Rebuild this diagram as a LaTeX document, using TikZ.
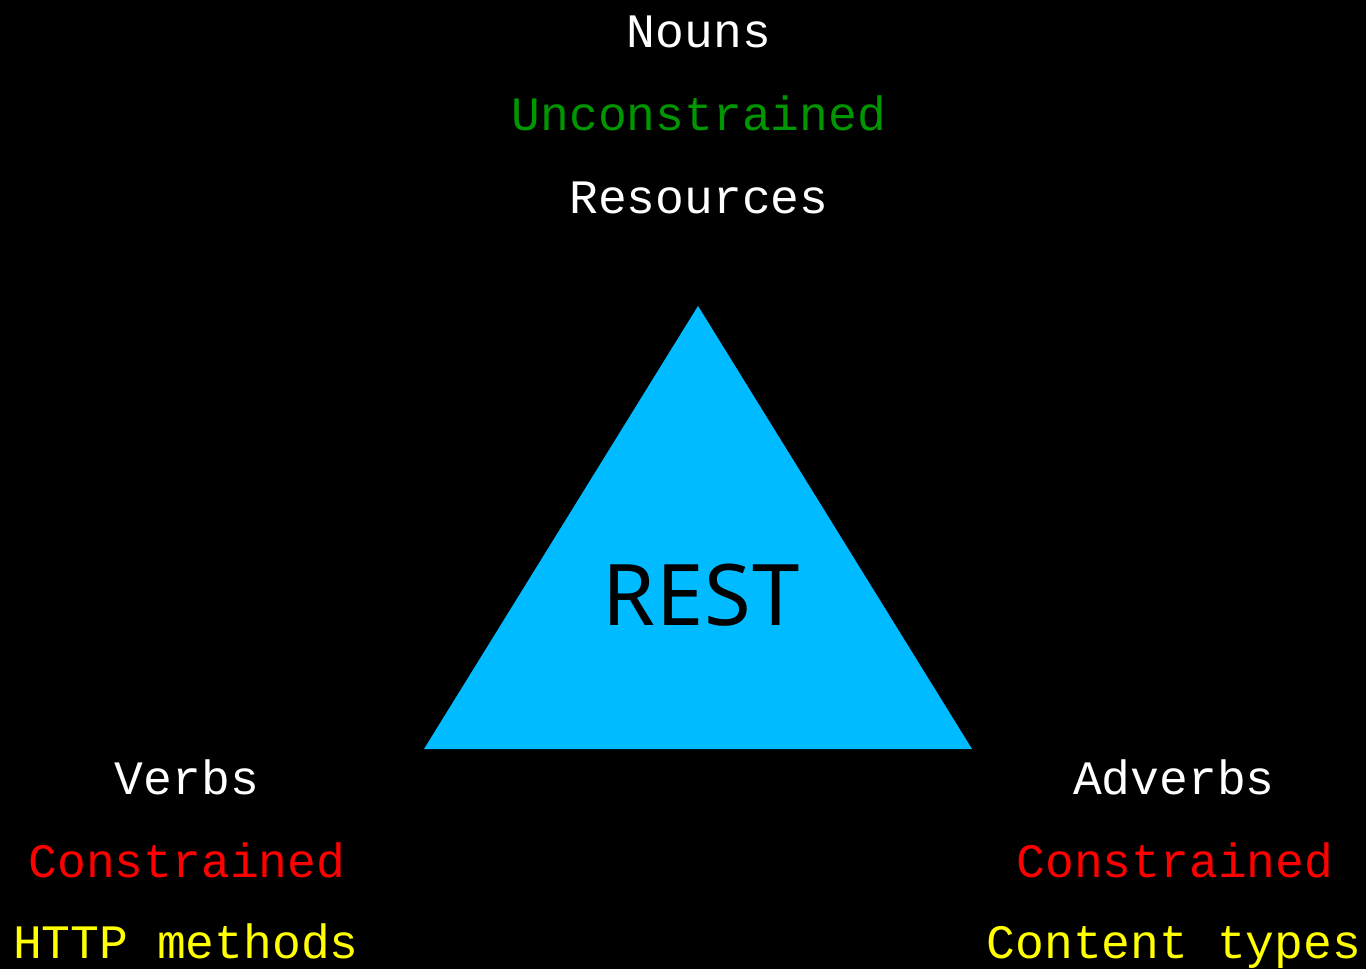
\documentclass[tikz,border=0pt]{standalone}
\usepackage{fontspec}
\setmonofont{Liberation Mono}
\newfontfamily\restfont{Noto Sans}
\usetikzlibrary{positioning}
\definecolor{restblue}{RGB}{0,187,255}
\definecolor{freegreen}{RGB}{0,150,0}
\definecolor{boundred}{RGB}{255,0,0}
\definecolor{mapyellow}{RGB}{255,255,0}

\begin{document}
\begin{tikzpicture}[
	x=1pt, y=-1pt,
	word/.style={font=\ttfamily\fontsize{48}{56}\selectfont, anchor=base, inner sep=0pt, text=white}
	]
		% backdrop
		\fill[black] (0,0) rectangle (1366,969);
		\useasboundingbox (0,0) rectangle (1366,969);

		\coordinate	(top)		at	(698,306);
		\coordinate	(left)		at	(424,749);
		\coordinate	(right)		at	(972,749);
		\fill[restblue] (top) -- (left) -- (right) -- cycle;
		\node[anchor=base, inner sep=0pt, font=\restfont\fontsize{85}{100}\selectfont]	(rest)	at	(701,625)	{R\kern1pt E\kern1pt S\kern1pt T};

		% top corner
		\node[word]					(nouns)		at	(699,47)	{Nouns};
		\node[word, text=freegreen]	(nounsfree)	at	(699,130)	{Unconstrained};
		\node[word]					(resources)	at	(699,213)	{Resources};

		% left corner
		\node[word]					(verbs)		at	(187,794)	{Verbs};
		\node[word, text=boundred]	(verbsbound)	at	(187,877)	{Constrained};
		\node[word, text=mapyellow]	(methods)	at	(186,958)	{HTTP methods};

		% right corner
		\node[word]					(adverbs)	at	(1174,794)	{Adverbs};
		\node[word, text=boundred]	(adverbsbound)	at	(1175,877)	{Constrained};
		\node[word, text=mapyellow]	(types)		at	(1174,958)	{Content types};
	\end{tikzpicture}
\end{document}
